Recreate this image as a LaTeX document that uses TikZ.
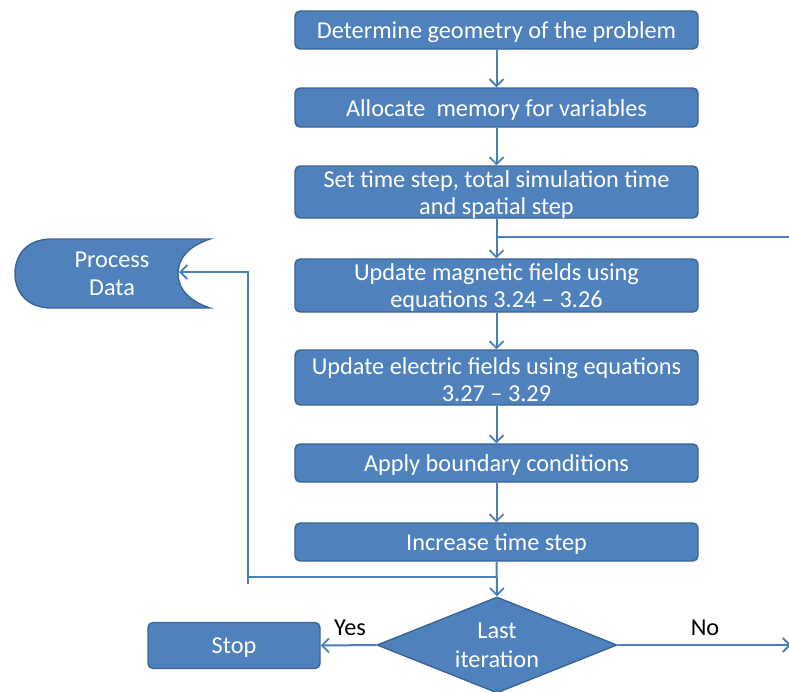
\documentclass[tikz,border=0pt]{standalone}
\usepackage{fontspec}
\setmainfont{Carlito}
\usetikzlibrary{arrows.meta,shapes.geometric}
\definecolor{boxfill}{HTML}{4F81BD}
\definecolor{boxline}{HTML}{3A6494}
\definecolor{conn}{HTML}{4A7EBB}
\begin{document}
\begin{tikzpicture}[x=1pt,y=-1pt,
  boxtext/.style={text=white, font=\fontsize{24.3}{27}\selectfont, align=center, inner sep=0pt, yshift=-2.5pt},
  flowbox/.style={draw=boxline, line width=1.4pt, fill=boxfill, rounded corners=5pt,
    inner sep=0pt, minimum width=403pt},
  conn/.style={draw=conn, line width=2pt},
  arr/.style={conn, -{Straight Barb[length=7pt,width=14pt,line width=1.8pt]}},
  lbl/.style={text=black, font=\fontsize{24.3}{27}\selectfont, inner sep=0pt}]
\useasboundingbox (0,0) rectangle (789,691);
\node[flowbox, minimum height=38pt, label={[boxtext]center:Determine geometry of the problem}] (b1) at (496.5,30) {};
\node[flowbox, minimum height=39pt, label={[boxtext]center:Allocate\ \ memory for variables}] (b2) at (496.5,107.5) {};
\node[flowbox, minimum height=52pt, label={[boxtext]center:{Set time step, total simulation time\\and spatial step}}] (b3) at (496.5,192) {};
\node[flowbox, minimum height=53pt, label={[boxtext]center:{Update magnetic fields using\\equations 3.24 -- 3.26}}] (b4) at (496.5,285.5) {};
\node[flowbox, minimum height=55pt, label={[boxtext]center:{Update electric fields using equations\\3.27 -- 3.29}}] (b5) at (496.5,377.5) {};
\node[flowbox, minimum height=38pt, label={[boxtext]center:Apply boundary conditions}] (b6) at (496.5,463) {};
\node[flowbox, minimum height=38pt, label={[boxtext]center:Increase time step}] (b7) at (496.5,542) {};
\node[flowbox, minimum width=172pt, minimum height=46pt, label={[boxtext]center:Stop}] (stop) at (234,645.5) {};
\node[diamond, draw=boxline, line width=1.4pt, fill=boxfill, minimum width=240pt,
  minimum height=96pt, inner sep=0pt,
  label={[boxtext, font=\fontsize{24.3}{29}\selectfont, yshift=2pt]center:{Last\\iteration}}] (dia) at (497,645) {};
% Process Data shape
\draw[draw=boxline, line width=1.4pt, fill=boxfill]
  (210,239) -- (52,239) .. controls (24,239) and (15,258) .. (15,273.5)
  .. controls (15,289) and (24,308) .. (52,308) -- (210,308)
  .. controls (189,301) and (178,289) .. (178,273.5)
  .. controls (178,258) and (189,246) .. (210,239) -- cycle;
\node[text=white, font=\fontsize{24.3}{28}\selectfont, align=center, inner sep=0pt] (pd) at (112,274) {Process\\Data};
\coordinate (pdin) at (179,272);
\coordinate (pdturn) at (248,272);
\coordinate (lft) at (248,584);
\coordinate (junc) at (496.5,577);
\coordinate (rt) at (789,237);
\coordinate (noend) at (791,645);
% connectors
\draw[arr] (b1) -- (b2);
\draw[arr] (b2) -- (b3);
\draw[arr] (b3) -- (b4);
\draw[conn] (rt) -- (b3.south |- rt);
\draw[arr] (b4) -- (b5);
\draw[arr] (b5) -- (b6);
\draw[arr] (b6) -- (b7);
\draw[arr] (b7.south) -- (dia.north);
\draw[conn] (junc) -- (junc -| lft);
\draw[arr] (lft) -- (pdturn) -- (pdin);
\draw[arr] (dia.west) -- (stop.east);
\draw[arr] (dia.east) -- (noend);
\node[lbl] (yes) at (350,628) {Yes};
\node[lbl] (no) at (705,628) {No};
\end{tikzpicture}
\end{document}
